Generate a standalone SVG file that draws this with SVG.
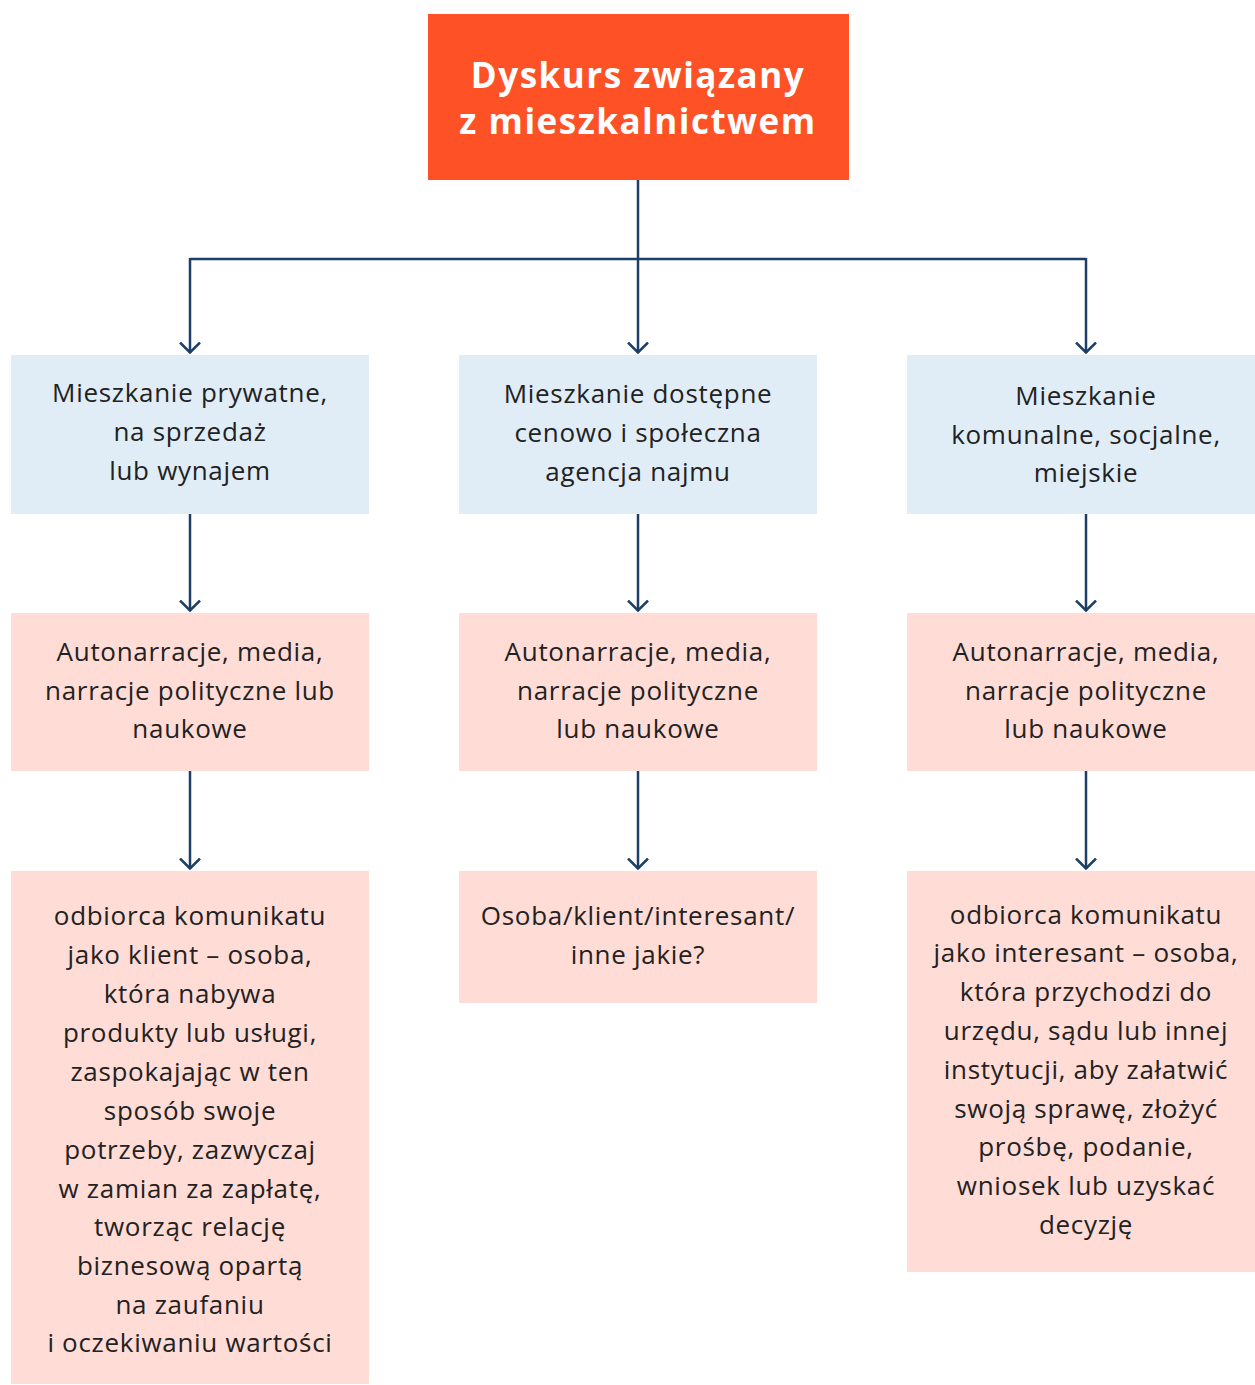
<svg xmlns="http://www.w3.org/2000/svg" width="1255" height="1385" viewBox="0 0 1255 1385">
<defs>
<style>
.t{font-family:"Open Sans","Liberation Sans",sans-serif;font-size:26px;letter-spacing:0.7px;fill:#222;text-anchor:middle}
.h{font-family:"Open Sans","Liberation Sans",sans-serif;font-size:35px;font-weight:bold;letter-spacing:1.5px;fill:#fff;text-anchor:middle}
.blue{fill:#E0EDF7}
.pink{fill:#FFDCD6}
.c{fill:none;stroke:#1B3F66;stroke-width:2.5}
</style>
<marker id="a" viewBox="0 0 13 22" refX="11.5" refY="11" markerWidth="13" markerHeight="22" markerUnits="userSpaceOnUse" orient="auto">
<path d="M1,1 L11,11 L1,21" fill="none" stroke="#1B3F66" stroke-width="2.5"/>
</marker>
</defs>
<rect width="1255" height="1385" fill="#fff"/>
<g id="connectors">
<path class="c" d="M638,180 V353" marker-end="url(#a)"/>
<path class="c" d="M190,259 H1086"/>
<path class="c" d="M190,258 V353" marker-end="url(#a)"/>
<path class="c" d="M1086,258 V353" marker-end="url(#a)"/>
<path class="c" d="M190,514 V611" marker-end="url(#a)"/>
<path class="c" d="M638,514 V611" marker-end="url(#a)"/>
<path class="c" d="M1086,514 V611" marker-end="url(#a)"/>
<path class="c" d="M190,771 V869" marker-end="url(#a)"/>
<path class="c" d="M638,771 V869" marker-end="url(#a)"/>
<path class="c" d="M1086,771 V869" marker-end="url(#a)"/>
</g>
<g id="root">
<rect x="428" y="14" width="421" height="166" fill="#FF5126"/>
<text class="h" x="638" y="88">Dyskurs związany</text>
<text class="h" x="638" y="134">z mieszkalnictwem</text>
</g>
<g id="n1">
<rect class="blue" x="11" y="355" width="358" height="159"/>
<text class="t" x="190" y="402">Mieszkanie prywatne,</text>
<text class="t" x="190" y="441">na sprzedaż</text>
<text class="t" x="190" y="480">lub wynajem</text>
</g>
<g id="n2">
<rect class="blue" x="459" y="355" width="358" height="159"/>
<text class="t" x="638" y="403">Mieszkanie dostępne</text>
<text class="t" x="638" y="442">cenowo i społeczna</text>
<text class="t" x="638" y="481">agencja najmu</text>
</g>
<g id="n3">
<rect class="blue" x="907" y="355" width="348" height="159"/>
<text class="t" x="1086" y="405">Mieszkanie</text>
<text class="t" x="1086" y="444">komunalne, socjalne,</text>
<text class="t" x="1086" y="482">miejskie</text>
</g>
<g id="n4">
<rect class="pink" x="11" y="613" width="358" height="158"/>
<text class="t" x="190" y="661">Autonarracje, media,</text>
<text class="t" x="190" y="700">narracje polityczne lub</text>
<text class="t" x="190" y="738">naukowe</text>
</g>
<g id="n5">
<rect class="pink" x="459" y="613" width="358" height="158"/>
<text class="t" x="638" y="661">Autonarracje, media,</text>
<text class="t" x="638" y="700">narracje polityczne</text>
<text class="t" x="638" y="738">lub naukowe</text>
</g>
<g id="n6">
<rect class="pink" x="907" y="613" width="348" height="158"/>
<text class="t" x="1086" y="661">Autonarracje, media,</text>
<text class="t" x="1086" y="700">narracje polityczne</text>
<text class="t" x="1086" y="738">lub naukowe</text>
</g>
<g id="n7">
<rect class="pink" x="11" y="871" width="358" height="513"/>
<text class="t" x="190" y="925">odbiorca komunikatu</text>
<text class="t" x="190" y="964">jako klient – osoba,</text>
<text class="t" x="190" y="1003">która nabywa</text>
<text class="t" x="190" y="1042">produkty lub usługi,</text>
<text class="t" x="190" y="1081">zaspokajając w ten</text>
<text class="t" x="190" y="1120">sposób swoje</text>
<text class="t" x="190" y="1159">potrzeby, zazwyczaj</text>
<text class="t" x="190" y="1198">w zamian za zapłatę,</text>
<text class="t" x="190" y="1236">tworząc relację</text>
<text class="t" x="190" y="1275">biznesową opartą</text>
<text class="t" x="190" y="1314">na zaufaniu</text>
<text class="t" x="190" y="1352">i oczekiwaniu wartości</text>
</g>
<g id="n8">
<rect class="pink" x="459" y="871" width="358" height="132"/>
<text class="t" x="638" y="925">Osoba/klient/interesant/</text>
<text class="t" x="638" y="964">inne jakie?</text>
</g>
<g id="n9">
<rect class="pink" x="907" y="871" width="348" height="401"/>
<text class="t" x="1086" y="924">odbiorca komunikatu</text>
<text class="t" x="1086" y="962">jako interesant – osoba,</text>
<text class="t" x="1086" y="1001">która przychodzi do</text>
<text class="t" x="1086" y="1040">urzędu, sądu lub innej</text>
<text class="t" x="1086" y="1079">instytucji, aby załatwić</text>
<text class="t" x="1086" y="1118">swoją sprawę, złożyć</text>
<text class="t" x="1086" y="1156">prośbę, podanie,</text>
<text class="t" x="1086" y="1195">wniosek lub uzyskać</text>
<text class="t" x="1086" y="1234">decyzję</text>
</g>
</svg>
